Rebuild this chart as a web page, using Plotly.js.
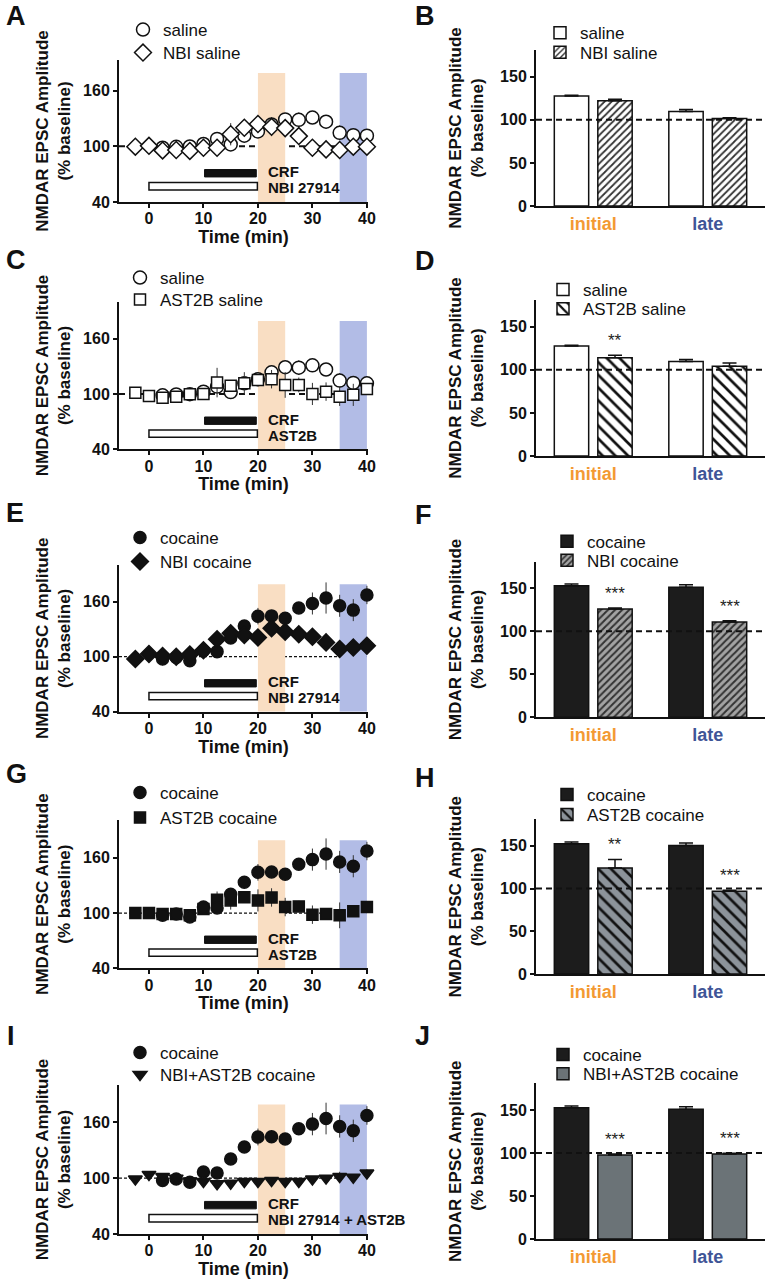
<!DOCTYPE html>
<html><head><meta charset="utf-8">
<script src="https://cdn.plot.ly/plotly-3.0.1.min.js"></script>
<style>body{margin:0;background:#fff}#chart{width:771px;height:1280px}</style>
</head><body><div id="chart"></div>
<script>
// ---------- data ----------
const timeDrug = [-2.5, 0, 2.5, 5, 7.5, 10, 12.5, 15, 17.5, 20, 22.5, 25, 27.5, 30, 32.5, 35, 37.5, 40];
const timeMain = [2.5, 5, 7.5, 10, 12.5, 15, 17.5, 20, 22.5, 25, 27.5, 30, 32.5, 35, 37.5, 40];

const saline = [98.5, 99.5, 99.8, 102.5, 108, 102, 111.5, 116, 123.5, 129, 128.5, 131, 126.5, 114.5, 112, 111.5];
const salineErr = [2, 2, 2, 3, 4, 6, 4, 4, 5, 3, 8, 5, 7, 8, 6, 5];
const nbiSaline = [99.6, 100.5, 95.6, 96, 95, 98.5, 98.5, 113, 120, 124, 121, 119.6, 111, 98.5, 96.7, 96, 99.6, 99.6];
const nbiSalineErr = [1, 2, 3, 3, 3, 3, 3, 12, 5, 5, 10, 4, 5, 3, 3, 4, 3, 2];
const astSaline = [101.4, 97.8, 96, 97, 99.6, 100, 112.3, 109, 111.6, 115, 116, 109.8, 109.8, 100, 102.5, 97, 99, 105.4];
const astSalineErr = [2, 2, 3, 3, 2, 3, 16, 5, 12, 6, 10, 14, 8, 12, 10, 10, 12, 5];

const cocaine = [97.5, 99, 95.6, 106.5, 105.5, 120.5, 133.5, 144.2, 144.5, 142, 153, 158, 164, 155.5, 150.8, 167.3];
const cocaineErr = [2, 3, 3, 6, 3, 3, 3, 9, 5, 3, 4, 12, 17, 12, 12, 10];
const nbiCocaine = [97.5, 102.9, 100.7, 100, 102.5, 107, 119, 125.5, 123.6, 121, 130.9, 127.3, 124.4, 121.8, 115.6, 108.4, 110, 112];
const nbiCocaineErr = [1, 2, 3, 4, 3, 6, 6, 5, 5, 6, 6, 6, 8, 6, 8, 8, 8, 8];
const astCocaine = [100, 100, 99, 99, 97.5, 104.3, 114.4, 113.7, 117.2, 113.7, 116.9, 106.5, 107.2, 98.2, 98.9, 97.5, 101.8, 106.5];
const astCocaineErr = [1, 1, 2, 2, 2, 4, 9, 10, 6, 12, 10, 10, 6, 10, 3, 14, 4, 6];
const nbiAstCocaine = [99, 104, 101.8, 100, 97, 96.4, 94, 94.6, 96.4, 96.4, 97.5, 96.4, 96.4, 99, 100, 101.8, 101, 105.4];
const nbiAstCocaineErr = [1, 2, 2, 2, 2, 2, 2, 2, 2, 2, 2, 2, 2, 2, 2, 5, 3, 4];

const initialWindow = [20, 25];
const lateWindow = [35, 40];
const crfPeriod = [10.2, 19.7];
const drugPeriod = [0, 19.9];

const groups = ['initial', 'late'];
const barSaline = [127.5, 109.6], barSalineErr = [1, 2.5];
const barNbiSaline = [122, 101.4], barNbiSalineErr = [2, 1];
const barAstSaline = [113.9, 104], barAstSalineErr = [3, 4];
const barCocaineF = [153, 151.2], barCocaineFErr = [2, 3];
const barNbiCocaine = [126, 110.9], barNbiCocaineErr = [1, 1.5];
const barCocaineH = [152.3, 150.4], barCocaineHErr = [2, 3];
const barAstCocaine = [124, 96.9], barAstCocaineErr = [10, 1];
const barCocaineJ = [152.7, 150.8], barCocaineJErr = [2, 3];
const barNbiAstCocaine = [97.7, 98.8], barNbiAstCocaineErr = [1, 1];
const starsB = ['', ''], starsD = ['**', ''], starsF = ['***', '***'], starsH = ['**', '***'], starsJ = ['***', '***'];

// ---------- layout helpers ----------
const W = 771, H = 1280;
const FONT = 'Liberation Sans, Arial, Helvetica, sans-serif';
const INK = '#111';
const dx = px => px / W;
const dy = py => 1 - py / H;
const BARGAP = 0.24;

const traces = [];
const layout = {
  width: W, height: H, margin: {l: 0, r: 0, t: 0, b: 0},
  paper_bgcolor: '#fff', plot_bgcolor: 'rgba(0,0,0,0)',
  font: {family: FONT, color: INK},
  barmode: 'group', bargap: BARGAP, bargroupgap: 0.21,
  shapes: [], annotations: [], showlegend: true
};

const axisCommon = {
  showline: true, linewidth: 2, linecolor: INK, showgrid: false, zeroline: false,
  ticks: 'outside', ticklen: 4, tickwidth: 2, tickcolor: INK,
  tickfont: {size: 16, weight: 'bold', color: INK}, fixedrange: true
};
function yTitle(standoff) {
  return {text: 'NMDAR EPSC Amplitude<br>(% baseline)', font: {size: 17, weight: 'bold', color: INK}, standoff: standoff};
}

let legendCount = 0;
function newLegend(xpx, ypx) {
  legendCount += 1;
  const key = legendCount === 1 ? 'legend' : 'legend' + legendCount;
  layout[key] = {x: dx(xpx), y: dy(ypx), xanchor: 'left', yanchor: 'middle', bgcolor: 'rgba(0,0,0,0)',
                 font: {size: 17, color: INK}, itemclick: false, itemdoubleclick: false};
  return key;
}

function letter(txt, xpx, ypx) {
  layout.annotations.push({text: '<b>' + txt + '</b>', xref: 'paper', yref: 'paper', x: dx(xpx), y: dy(ypx),
    xanchor: 'left', yanchor: 'middle', showarrow: false, font: {size: 27, color: INK}});
}

function linePanel(n, p) {
  const s = n === 1 ? '' : String(n);
  const xa = 'x' + s, ya = 'y' + s;
  layout['xaxis' + s] = Object.assign({}, axisCommon, {
    domain: [dx(119), dx(368)], range: [-5.5, 40.2], anchor: ya, tickvals: [0, 10, 20, 30, 40],
    ticklabelstandoff: -3,
    title: {text: 'Time (min)', font: {size: 18, weight: 'bold', color: INK}, standoff: 0}
  });
  layout['yaxis' + s] = Object.assign({}, axisCommon, {
    domain: [dy(p.bot), dy(p.top)], range: [40, p.ymax], anchor: xa, tickvals: [40, 100, 160], title: yTitle(8)
  });
  p.series.forEach((sr, i) => {
    traces.push({
      type: 'scatter', mode: 'markers', x: sr.x, y: sr.y, name: sr.name, xaxis: xa, yaxis: ya,
      legend: newLegend(p.legendX - 20, p.legendY[i]), cliponaxis: false,
      marker: {symbol: sr.symbol, size: sr.size, color: sr.fill, line: {color: INK, width: 1.5}},
      error_y: {type: 'data', array: sr.err, visible: true, width: 0, thickness: 1, color: '#333'}
    });
  });
  // draw order: put the drug series under cocaine when requested
  if (p.swapOrder) { const a = traces.pop(), b = traces.pop(); traces.push(a, b); }
  const shp = layout.shapes;
  shp.push({type: 'rect', xref: xa, yref: ya, x0: initialWindow[0], x1: initialWindow[1], y0: 40, y1: 179,
            fillcolor: '#F9DEC3', line: {width: 0}, layer: 'below'});
  shp.push({type: 'rect', xref: xa, yref: ya, x0: lateWindow[0], x1: lateWindow[1], y0: 40, y1: 179,
            fillcolor: '#B2BCE6', line: {width: 0}, layer: 'below'});
  shp.push({type: 'line', xref: xa + ' domain', yref: ya, x0: 0, x1: 1, y0: 100, y1: 100, layer: 'below',
            line: p.thickDash ? {color: INK, width: 2, dash: '6px,4px'} : {color: INK, width: 1.3, dash: '3px,2px'}});
  shp.push({type: 'rect', xref: xa, yref: ya, x0: crfPeriod[0], x1: crfPeriod[1], y0: 67, y1: 75,
            fillcolor: INK, line: {color: INK, width: 1}});
  shp.push({type: 'rect', xref: xa, yref: ya, x0: drugPeriod[0], x1: drugPeriod[1], y0: 53, y1: 61,
            fillcolor: '#fff', line: {color: INK, width: 1.5}});
  layout.annotations.push({text: '<b>CRF</b>', xref: xa, yref: ya, x: 21.5, y: 72.5, xanchor: 'left', yanchor: 'middle',
    showarrow: false, font: {size: 15, color: INK}});
  layout.annotations.push({text: '<b>' + p.drug + '</b>', xref: xa, yref: ya, x: 21.5, y: 55.5, xanchor: 'left', yanchor: 'middle',
    showarrow: false, font: {size: 15, color: INK}});
}

function barPanel(n, p) {
  const s = String(n);
  const xa = 'x' + s, ya = 'y' + s;
  const tickColors = ['#F39A33', '#3F5597'];
  layout['xaxis' + s] = Object.assign({}, axisCommon, {
    domain: [dx(536), dx(765)], type: 'category', range: [-0.5, 1.5], anchor: ya, ticks: '',
    tickvals: groups, ticktext: groups.map((g, i) => '<span style="color:' + tickColors[i] + '">' + g + '</span>'),
    tickfont: {size: 18, weight: 'bold'}
  });
  layout['yaxis' + s] = Object.assign({}, axisCommon, {
    domain: [dy(p.bot), dy(p.top)], range: [0, 181], anchor: xa, tickvals: [0, 50, 100, 150], title: yTitle(12)
  });
  p.series.forEach((sr, i) => {
    const marker = {color: sr.color, line: {color: INK, width: 1.5}};
    if (sr.pattern) marker.pattern = sr.pattern;
    traces.push({
      type: 'bar', x: groups, y: sr.y, name: sr.name, xaxis: xa, yaxis: ya,
      legend: newLegend(p.legendX - 40, p.legendY[i]), marker: marker,
      error_y: {type: 'data', symmetric: false, array: sr.err, arrayminus: sr.err.map(() => 0),
                width: 7, thickness: 1.5, color: INK}
    });
  });
  layout.shapes.push({type: 'line', xref: xa + ' domain', yref: ya, x0: 0, x1: 1, y0: 100, y1: 100,
                      line: {color: INK, width: 2, dash: '6px,4px'}});
  const second = p.series[1];
  const off = (1 - BARGAP) / 4;
  p.stars.forEach((st, i) => {
    if (!st) return;
    layout.annotations.push({text: st, xref: xa, yref: ya, x: i + off, y: second.y[i] + second.err[i] + 17,
      xanchor: 'center', yanchor: 'middle', showarrow: false, font: {size: 17, color: '#222'}});
  });
}

// ---------- panels ----------
linePanel(1, {top: 60, bot: 202, ymax: 193, drug: 'NBI 27914', thickDash: true, legendX: 143, legendY: [30, 53], series: [
  {name: 'saline', x: timeMain, y: saline, err: salineErr, symbol: 'circle', fill: '#fff', size: 13},
  {name: 'NBI saline', x: timeDrug, y: nbiSaline, err: nbiSalineErr, symbol: 'diamond', fill: '#fff', size: 13}]});
barPanel(2, {top: 50, bot: 206, legendX: 580, legendY: [33.3, 52.7], stars: starsB, series: [
  {name: 'saline', y: barSaline, err: barSalineErr, color: '#fff'},
  {name: 'NBI saline', y: barNbiSaline, err: barNbiSalineErr, color: '#fff',
   pattern: {shape: '/', bgcolor: '#fff', fgcolor: '#333', size: 5, solidity: 0.35}}]});

linePanel(3, {top: 301.7, bot: 449.3, ymax: 200, drug: 'AST2B', thickDash: true, legendX: 140, legendY: [278, 300], series: [
  {name: 'saline', x: timeMain, y: saline, err: salineErr, symbol: 'circle', fill: '#fff', size: 13},
  {name: 'AST2B saline', x: timeDrug, y: astSaline, err: astSalineErr, symbol: 'square', fill: '#fff', size: 11}]});
barPanel(4, {top: 300, bot: 456, legendX: 583, legendY: [290, 309.3], stars: starsD, series: [
  {name: 'saline', y: barSaline, err: barSalineErr, color: '#fff'},
  {name: 'AST2B saline', y: barAstSaline, err: barAstSalineErr, color: '#fff',
   pattern: {shape: '\\', bgcolor: '#fff', fgcolor: INK, size: 9, solidity: 0.3}}]});

linePanel(5, {top: 565, bot: 711.7, ymax: 200, drug: 'NBI 27914', thickDash: false, legendX: 140, legendY: [538, 562], series: [
  {name: 'cocaine', x: timeMain, y: cocaine, err: cocaineErr, symbol: 'circle', fill: INK, size: 12},
  {name: 'NBI cocaine', x: timeDrug, y: nbiCocaine, err: nbiCocaineErr, symbol: 'diamond', fill: INK, size: 13}]});
barPanel(6, {top: 561.7, bot: 717.3, legendX: 587, legendY: [541.7, 560.7], stars: starsF, series: [
  {name: 'cocaine', y: barCocaineF, err: barCocaineFErr, color: '#1c1c1c'},
  {name: 'NBI cocaine', y: barNbiCocaine, err: barNbiCocaineErr, color: '#a0a0a0',
   pattern: {shape: '/', bgcolor: '#a3a3a3', fgcolor: '#333', size: 5, solidity: 0.4}}]});

linePanel(7, {top: 820, bot: 968.3, ymax: 201, drug: 'AST2B', thickDash: false, swapOrder: true, legendX: 140, legendY: [793, 818], series: [
  {name: 'cocaine', x: timeMain, y: cocaine, err: cocaineErr, symbol: 'circle', fill: INK, size: 12},
  {name: 'AST2B cocaine', x: timeDrug, y: astCocaine, err: astCocaineErr, symbol: 'square', fill: INK, size: 11}]});
barPanel(8, {top: 819.3, bot: 974, legendX: 587, legendY: [795, 815], stars: starsH, series: [
  {name: 'cocaine', y: barCocaineH, err: barCocaineHErr, color: '#1c1c1c'},
  {name: 'AST2B cocaine', y: barAstCocaine, err: barAstCocaineErr, color: '#8c939a',
   pattern: {shape: '\\', bgcolor: '#8c939a', fgcolor: INK, size: 9, solidity: 0.3}}]});

linePanel(9, {top: 1085, bot: 1234, ymax: 200, drug: 'NBI 27914 + AST2B', thickDash: false, legendX: 140, legendY: [1053, 1075], series: [
  {name: 'cocaine', x: timeMain, y: cocaine, err: cocaineErr, symbol: 'circle', fill: INK, size: 12},
  {name: 'NBI+AST2B cocaine', x: timeDrug, y: nbiAstCocaine, err: nbiAstCocaineErr, symbol: 'triangle-down', fill: INK, size: 12}]});
barPanel(10, {top: 1083.3, bot: 1239, legendX: 583, legendY: [1055, 1074.3], stars: starsJ, series: [
  {name: 'cocaine', y: barCocaineJ, err: barCocaineJErr, color: '#1c1c1c'},
  {name: 'NBI+AST2B cocaine', y: barNbiAstCocaine, err: barNbiAstCocaineErr, color: '#6b7377'}]});

// panel letters
[['A', 4, 16], ['B', 413, 16], ['C', 4, 260], ['D', 413, 261], ['E', 4, 513], ['F', 413, 515],
 ['G', 4, 774], ['H', 413, 778], ['I', 5, 1036], ['J', 413, 1036]].forEach(a => letter(a[0], a[1], a[2]));

Plotly.newPlot('chart', traces, layout, {staticPlot: true, displayModeBar: false});
</script>
</body></html>
